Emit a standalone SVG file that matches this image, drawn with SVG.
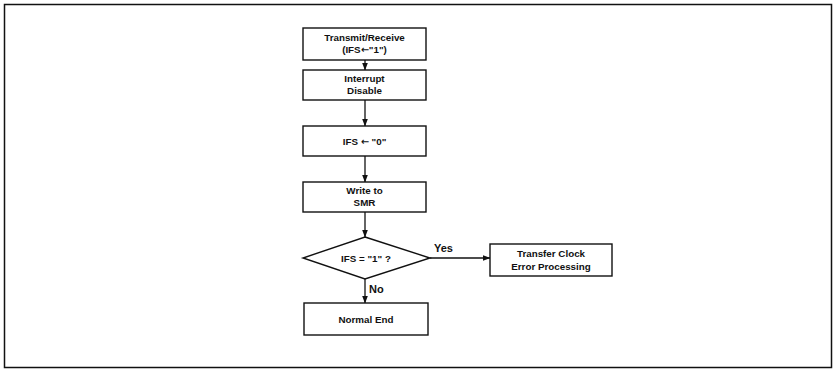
<svg xmlns="http://www.w3.org/2000/svg" width="835" height="370" viewBox="0 0 835 370">
<style>
.box{fill:#fff;stroke:#111;stroke-width:1.4}
.t{font-family:"Liberation Sans",Arial,sans-serif;font-weight:bold;font-size:9.8px;fill:#111;text-anchor:middle}
.ar{font-family:"DejaVu Sans",sans-serif;font-weight:bold}
.lbl{font-family:"Liberation Sans",Arial,sans-serif;font-weight:bold;font-size:11px;fill:#111}
.c{stroke:#111;stroke-width:1.3;fill:none}
</style>
<defs>
<marker id="ah" markerWidth="8" markerHeight="6" refX="7.5" refY="3" orient="auto" markerUnits="userSpaceOnUse">
<path d="M0,0 L8,3 L0,6 Z" fill="#111"/>
</marker>
</defs>
<rect x="4.5" y="4.5" width="827" height="363" fill="#fff" stroke="#111" stroke-width="1.5"/>
<g id="connectors">
<line class="c" x1="365" y1="60" x2="365" y2="70" marker-end="url(#ah)"/>
<line class="c" x1="365" y1="100" x2="365" y2="126" marker-end="url(#ah)"/>
<line class="c" x1="365" y1="156" x2="365" y2="182" marker-end="url(#ah)"/>
<line class="c" x1="365" y1="212" x2="365" y2="237" marker-end="url(#ah)"/>
<line class="c" x1="365" y1="279" x2="365" y2="303" marker-end="url(#ah)"/>
<line class="c" x1="430" y1="258" x2="490" y2="258" marker-end="url(#ah)"/>
<text class="lbl" x="434" y="252">Yes</text>
<text class="lbl" x="369" y="293">No</text>
</g>
<g id="n1"><rect class="box" x="303" y="28" width="123" height="32"/>
<text class="t" x="364.5" y="41">Transmit/Receive</text><text class="t" x="364.5" y="53">(IFS<tspan class="ar">←</tspan>"1")</text></g>
<g id="n2"><rect class="box" x="303" y="70" width="123" height="30"/>
<text class="t" x="364.5" y="82">Interrupt</text><text class="t" x="364.5" y="94">Disable</text></g>
<g id="n3"><rect class="box" x="303" y="126" width="123" height="30"/>
<text class="t" x="364.5" y="144.5">IFS <tspan class="ar">←</tspan> "0"</text></g>
<g id="n4"><rect class="box" x="303" y="182" width="123" height="30"/>
<text class="t" x="364.5" y="194">Write to</text><text class="t" x="364.5" y="206">SMR</text></g>
<g id="n5"><polygon class="box" points="365,237 430,258 365,279 303,258"/>
<text class="t" x="366" y="262">IFS = "1" ?</text></g>
<g id="n6"><rect class="box" x="490" y="244" width="122" height="32"/>
<text class="t" x="551" y="257">Transfer Clock</text><text class="t" x="551" y="270">Error Processing</text></g>
<g id="n7"><rect class="box" x="304" y="303" width="124" height="32"/>
<text class="t" x="366" y="322.5">Normal End</text></g>
</svg>
